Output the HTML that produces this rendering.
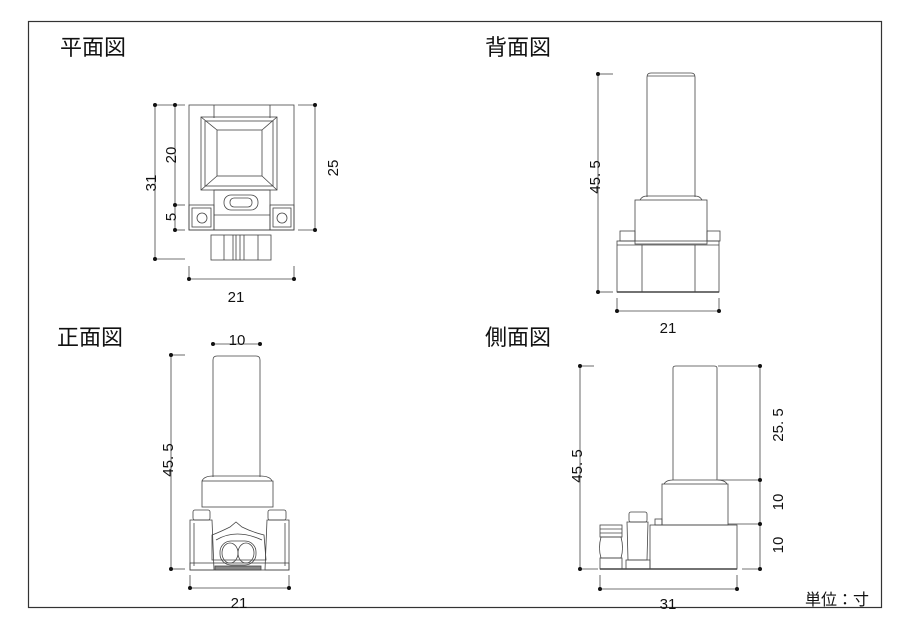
<!DOCTYPE html>
<html><head><meta charset="utf-8"><style>
html,body{margin:0;padding:0;background:#fff;}
svg{display:block;}
text{font-family:"Liberation Sans","Noto Sans CJK JP",sans-serif;fill:#111;}
.t{font-size:22px;}
.d{font-size:15px;}
</style></head><body>
<svg width="900" height="637" viewBox="0 0 900 637" xmlns="http://www.w3.org/2000/svg">
<rect x="28.5" y="21.5" width="853" height="586" fill="none" stroke="#333" stroke-width="1.2"/>
<text class="t" x="60" y="55">平面図</text>
<text class="t" x="485" y="55">背面図</text>
<text class="t" x="57" y="345">正面図</text>
<text class="t" x="485" y="345">側面図</text>
<text x="805" y="605" font-size="16">単位：寸</text>

<g fill="none" stroke="#444" stroke-width="0.8">
<!-- TOP VIEW -->
<line x1="155" y1="105" x2="155" y2="259"/><line x1="175" y1="105" x2="175" y2="230"/>
<line x1="155" y1="105" x2="185" y2="105"/><line x1="155" y1="259" x2="185" y2="259"/>
<line x1="175" y1="205" x2="185" y2="205"/><line x1="175" y1="230" x2="185" y2="230"/>
<line x1="315" y1="105" x2="315" y2="230"/><line x1="298" y1="105" x2="315" y2="105"/><line x1="298" y1="230" x2="315" y2="230"/>
<line x1="189" y1="279" x2="294" y2="279"/><line x1="189" y1="266" x2="189" y2="279"/><line x1="294" y1="266" x2="294" y2="279"/>
<rect x="189" y="105" width="105" height="125"/>
<line x1="214" y1="105" x2="214" y2="118"/><line x1="270" y1="105" x2="270" y2="118"/>
<rect x="201" y="117" width="76" height="73"/><rect x="217" y="130" width="45" height="46"/>
<line x1="201" y1="117" x2="217" y2="130"/><line x1="277" y1="117" x2="262" y2="130"/>
<line x1="201" y1="190" x2="217" y2="176"/><line x1="277" y1="190" x2="262" y2="176"/>
<rect x="205" y="121" width="68" height="65"/>
<rect x="214" y="190" width="56" height="40"/>
<rect x="224" y="195" width="34" height="15" rx="7"/><rect x="230" y="198" width="22" height="9" rx="4"/>
<line x1="214" y1="215" x2="270" y2="215"/>
<rect x="189" y="205" width="25" height="25"/><rect x="192" y="208" width="19" height="19"/>
<rect x="270" y="205" width="24" height="25"/><rect x="273" y="208" width="18" height="19"/>
<circle cx="202" cy="218" r="5"/><circle cx="282" cy="218" r="5"/>
<rect x="211" y="235" width="60" height="25"/>
<line x1="224" y1="235" x2="224" y2="260"/><line x1="233" y1="235" x2="233" y2="260"/><line x1="236" y1="235" x2="236" y2="260"/>
<line x1="240" y1="235" x2="240" y2="260"/><line x1="244" y1="235" x2="244" y2="260"/><line x1="258" y1="235" x2="258" y2="260"/>

<!-- BACK VIEW -->
<line x1="598" y1="74" x2="598" y2="292"/><line x1="598" y1="74" x2="613" y2="74"/><line x1="598" y1="292" x2="613" y2="292"/>
<line x1="617" y1="311" x2="719" y2="311"/><line x1="617" y1="298" x2="617" y2="311"/><line x1="719" y1="298" x2="719" y2="311"/>
<path d="M647 197 V77 Q647 73 651 73 H691 Q695 73 695 77 V197"/>
<line x1="647" y1="76" x2="695" y2="76"/>
<path d="M640 200 Q642 196 647 196 H695 Q700 196 702 200"/>
<rect x="635" y="200" width="72" height="44"/>
<rect x="620" y="231" width="15" height="10"/><rect x="707" y="231" width="13" height="10"/>
<rect x="617" y="241" width="102" height="51"/>
<line x1="617" y1="245" x2="719" y2="245"/>
<line x1="642" y1="245" x2="642" y2="292"/><line x1="695" y1="245" x2="695" y2="292"/>
<line x1="617" y1="292" x2="719" y2="292" stroke-width="1.6"/>

<!-- FRONT VIEW -->
<line x1="213" y1="344" x2="260" y2="344"/>
<line x1="171" y1="355" x2="171" y2="569"/><line x1="171" y1="355" x2="185" y2="355"/><line x1="171" y1="569" x2="185" y2="569"/>
<line x1="190" y1="588" x2="289" y2="588"/><line x1="190" y1="575" x2="190" y2="588"/><line x1="289" y1="575" x2="289" y2="588"/>
<path d="M213 477 V360 Q213 356 217 356 H256 Q260 356 260 360 V477"/>
<path d="M202 481 Q204 476 213 476 H260 Q270 476 272 481"/>
<rect x="202" y="481" width="71" height="26"/>
<rect x="193" y="510" width="17" height="10" rx="2"/><rect x="268" y="510" width="18" height="10" rx="2"/>
<path d="M190 520 H212 L214 570 H190 Z"/><path d="M289 520 H267 L265 570 H289 Z"/>
<line x1="194" y1="523" x2="194" y2="566"/><line x1="285" y1="523" x2="285" y2="566"/>
<path d="M212 535 Q220 532 230 527 L236 522 L242 527 Q252 532 264 535 L266 560 H212 Z"/>
<path d="M216 540 Q236 528 262 540"/>
<rect x="220" y="541" width="36" height="24" rx="11"/>
<ellipse cx="230" cy="553" rx="8" ry="10"/><ellipse cx="246" cy="553" rx="8" ry="10"/>
<rect x="190" y="563" width="99" height="7"/>
<rect x="215" y="566" width="46" height="4" fill="#888"/>

<!-- SIDE VIEW -->
<line x1="580" y1="366" x2="580" y2="569"/><line x1="580" y1="366" x2="594" y2="366"/><line x1="580" y1="569" x2="598" y2="569"/>
<line x1="760" y1="366" x2="760" y2="569"/>
<line x1="718" y1="366" x2="760" y2="366"/><line x1="718" y1="480" x2="760" y2="480"/>
<line x1="728" y1="524" x2="760" y2="524"/><line x1="742" y1="569" x2="760" y2="569"/>
<line x1="600" y1="589" x2="737" y2="589"/><line x1="600" y1="575" x2="600" y2="589"/><line x1="737" y1="575" x2="737" y2="589"/>
<path d="M673 480 V368 Q673 366 676 366 H714 Q717 366 717 368 V480"/>
<path d="M664 484 Q666 480 673 480 H717 Q725 480 727 484"/>
<rect x="662" y="484" width="66" height="41"/>
<rect x="650" y="525" width="87" height="44"/>
<rect x="655" y="519" width="7" height="6"/>
<rect x="629" y="512" width="18" height="10" rx="2"/>
<path d="M627 522 H648 L647 560 H628 Z"/>
<rect x="626" y="560" width="24" height="9"/>
<rect x="600" y="525" width="22" height="12"/>
<line x1="600" y1="529" x2="622" y2="529"/><line x1="600" y1="533" x2="622" y2="533"/>
<path d="M601 537 Q598 548 601 558 H621 Q624 548 621 537 Z"/>
<rect x="600" y="558" width="22" height="11"/>
<line x1="600" y1="569" x2="737" y2="569" stroke-width="1.4"/>
</g>

<g fill="#111">
<circle cx="155" cy="105" r="2"/><circle cx="175" cy="105" r="2"/><circle cx="155" cy="259" r="2"/>
<circle cx="175" cy="205" r="2"/><circle cx="175" cy="230" r="2"/>
<circle cx="315" cy="105" r="2"/><circle cx="315" cy="230" r="2"/>
<circle cx="189" cy="279" r="2"/><circle cx="294" cy="279" r="2"/>
<circle cx="598" cy="74" r="2"/><circle cx="598" cy="292" r="2"/><circle cx="617" cy="311" r="2"/><circle cx="719" cy="311" r="2"/>
<circle cx="213" cy="344" r="2"/><circle cx="260" cy="344" r="2"/>
<circle cx="171" cy="355" r="2"/><circle cx="171" cy="569" r="2"/>
<circle cx="190" cy="588" r="2"/><circle cx="289" cy="588" r="2"/>
<circle cx="580" cy="366" r="2"/><circle cx="580" cy="569" r="2"/>
<circle cx="760" cy="366" r="2"/><circle cx="760" cy="480" r="2"/><circle cx="760" cy="524" r="2"/><circle cx="760" cy="569" r="2"/>
<circle cx="600" cy="589" r="2"/><circle cx="737" cy="589" r="2"/>
</g>

<g>
<text class="d" x="236" y="302" text-anchor="middle">21</text>
<text class="d" x="668" y="333" text-anchor="middle">21</text>
<text class="d" x="237" y="345" text-anchor="middle">10</text>
<text class="d" x="239" y="608" text-anchor="middle">21</text>
<text class="d" x="668" y="609" text-anchor="middle">31</text>
<text class="d" transform="translate(176,155) rotate(-90)" text-anchor="middle">20</text>
<text class="d" transform="translate(156,183) rotate(-90)" text-anchor="middle">31</text>
<text class="d" transform="translate(176,217) rotate(-90)" text-anchor="middle">5</text>
<text class="d" transform="translate(338,168) rotate(-90)" text-anchor="middle">25</text>
<text class="d" transform="translate(600,177) rotate(-90)" text-anchor="middle">45. 5</text>
<text class="d" transform="translate(173,460) rotate(-90)" text-anchor="middle">45. 5</text>
<text class="d" transform="translate(582,466) rotate(-90)" text-anchor="middle">45. 5</text>
<text class="d" transform="translate(783,425) rotate(-90)" text-anchor="middle">25. 5</text>
<text class="d" transform="translate(783,502) rotate(-90)" text-anchor="middle">10</text>
<text class="d" transform="translate(783,545) rotate(-90)" text-anchor="middle">10</text>
</g>
</svg>
</body></html>
